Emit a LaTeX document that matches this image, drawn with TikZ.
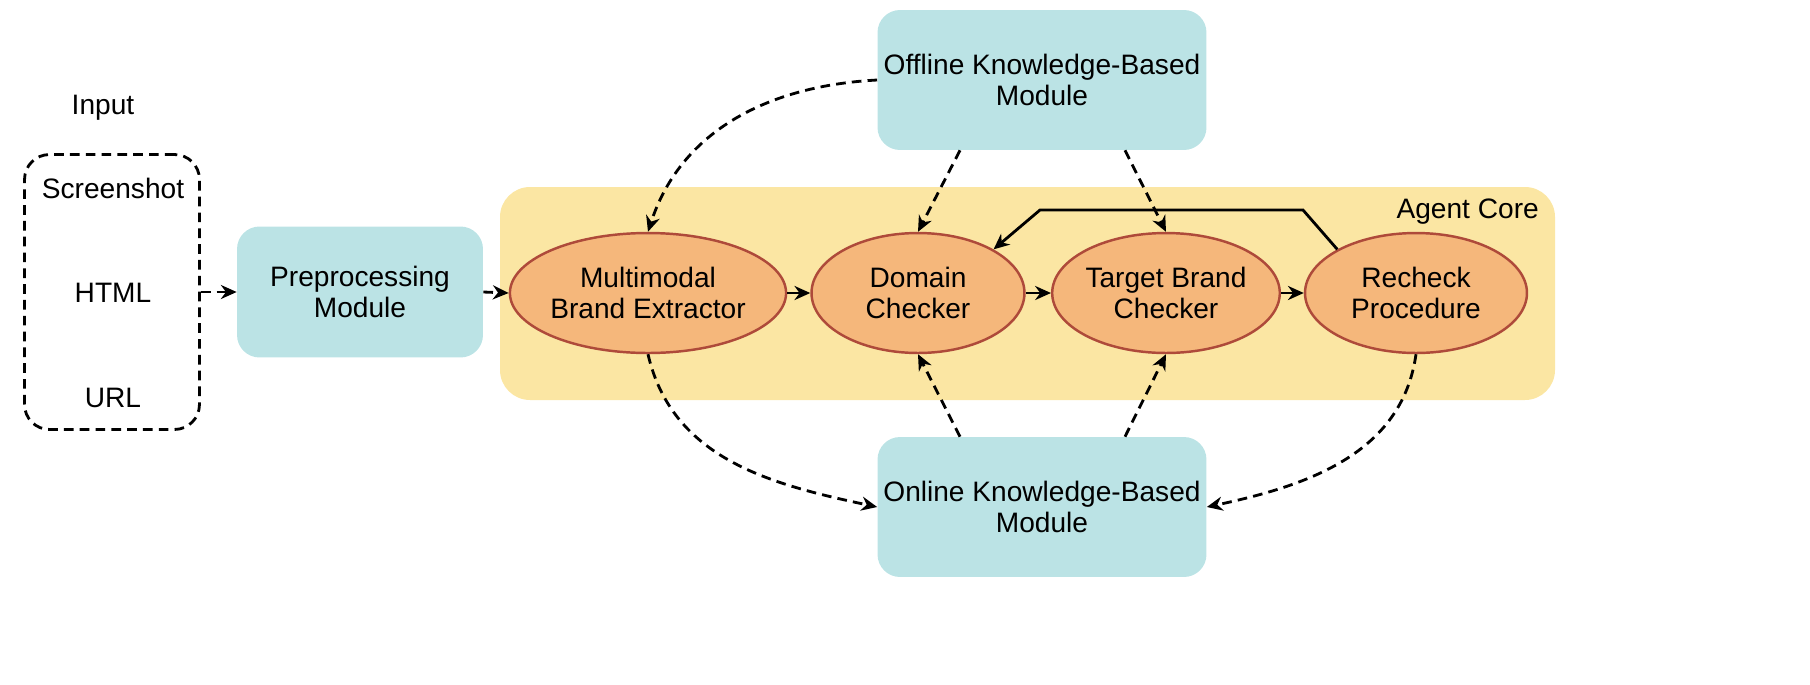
\documentclass[tikz,border=0pt]{standalone}
\usepackage{fontspec}
\setmainfont{Liberation Sans}
\usetikzlibrary{arrows.meta,shapes.geometric}

\definecolor{modcyan}{HTML}{BBE3E5}
\definecolor{coreyellow}{HTML}{FBE6A3}
\definecolor{procfill}{HTML}{F5B77B}
\definecolor{procline}{HTML}{AE4A3A}

\tikzset{
  module/.style={rectangle, rounded corners=0.45cm, fill=modcyan, align=center,
    minimum width=4.92cm, minimum height=2.62cm, inner sep=0pt},
  proc/.style={ellipse, draw=procline, line width=1.4pt, fill=procfill, align=center,
    minimum height=2.4cm, inner sep=0pt},
  flow/.style={line width=1.6pt, -{Stealth[length=9pt,width=8pt]}},
  dflow/.style={flow, dash pattern=on 5.5pt off 3.5pt},
}

\begin{document}
\begin{tikzpicture}[x=0.02cm, y=-0.02cm, font=\fontsize{16}{17.5}\selectfont]
    \useasboundingbox (0,0) rectangle (1810,684);

    % input
    \node (inlabel) at (103,108) {Input};
    \node (inbox) [draw, dash pattern=on 5.5pt off 3.5pt, line width=1.6pt, rounded corners=0.5cm,
        minimum width=3.5cm, minimum height=5.5cm] at (112,292) {};
    \node (scr) at (113,188) {Screenshot};
    \node (html) at (113,293) {HTML};
    \node (url) at (113,398) {URL};

    % modules
    \node (prep) [module] at (360,292) {Preprocessing\\Module};
    \node (off) [module, minimum width=6.58cm, minimum height=2.8cm] at (1042,80) {Offline Knowledge-Based\\Module};
    \node (on) [module, minimum width=6.58cm, minimum height=2.8cm] at (1042,507) {Online Knowledge-Based\\Module};

    % agent core
    \fill [coreyellow, rounded corners=0.6cm] (500,187) rectangle (1555,400);
    \node (corelabel) [anchor=east] at (1545,212) {Agent Core};

    \node (mbe) [proc, minimum width=5.2cm] at (648,293) {Multimodal\\Brand Extractor};
    \node (dom) [proc, minimum width=4.26cm] at (918,293) {Domain\\Checker};
    \node (tbc) [proc, minimum width=4.24cm] at (1166,293) {Target Brand\\Checker};
    \node (rcp) [proc, minimum width=4.44cm] at (1416,293) {Recheck\\Procedure};

    \coordinate (fb1) at (1303,210);
    \coordinate (fb2) at (1040,210);

    % connectors
    \draw [dflow] (inbox.east) -- (prep.west);
    \draw [dflow] (prep.east) -- (mbe.west);

    \draw [flow] (mbe) -- (dom);
    \draw [flow] (dom) -- (tbc);
    \draw [flow] (tbc) -- (rcp);
    \draw [flow] (rcp.151) -- (fb1) -- (fb2) -- (dom.30);

    \draw [dflow] (off.west) to[out=183, in=72] (mbe.north);
    \draw [dflow] ([xshift=-1.64cm]off.south) -- (dom.north);
    \draw [dflow] ([xshift=1.66cm]off.south) -- (tbc.north);

    \draw [dflow] ([xshift=-1.64cm]on.north) -- (dom.south);
    \draw [dflow] ([xshift=1.66cm]on.north) -- (tbc.south);
    \draw [dflow] (mbe.south) to[out=-77, in=168] (on.west);
    \draw [dflow] (rcp.south) to[out=-98, in=12] (on.east);
\end{tikzpicture}
\end{document}
